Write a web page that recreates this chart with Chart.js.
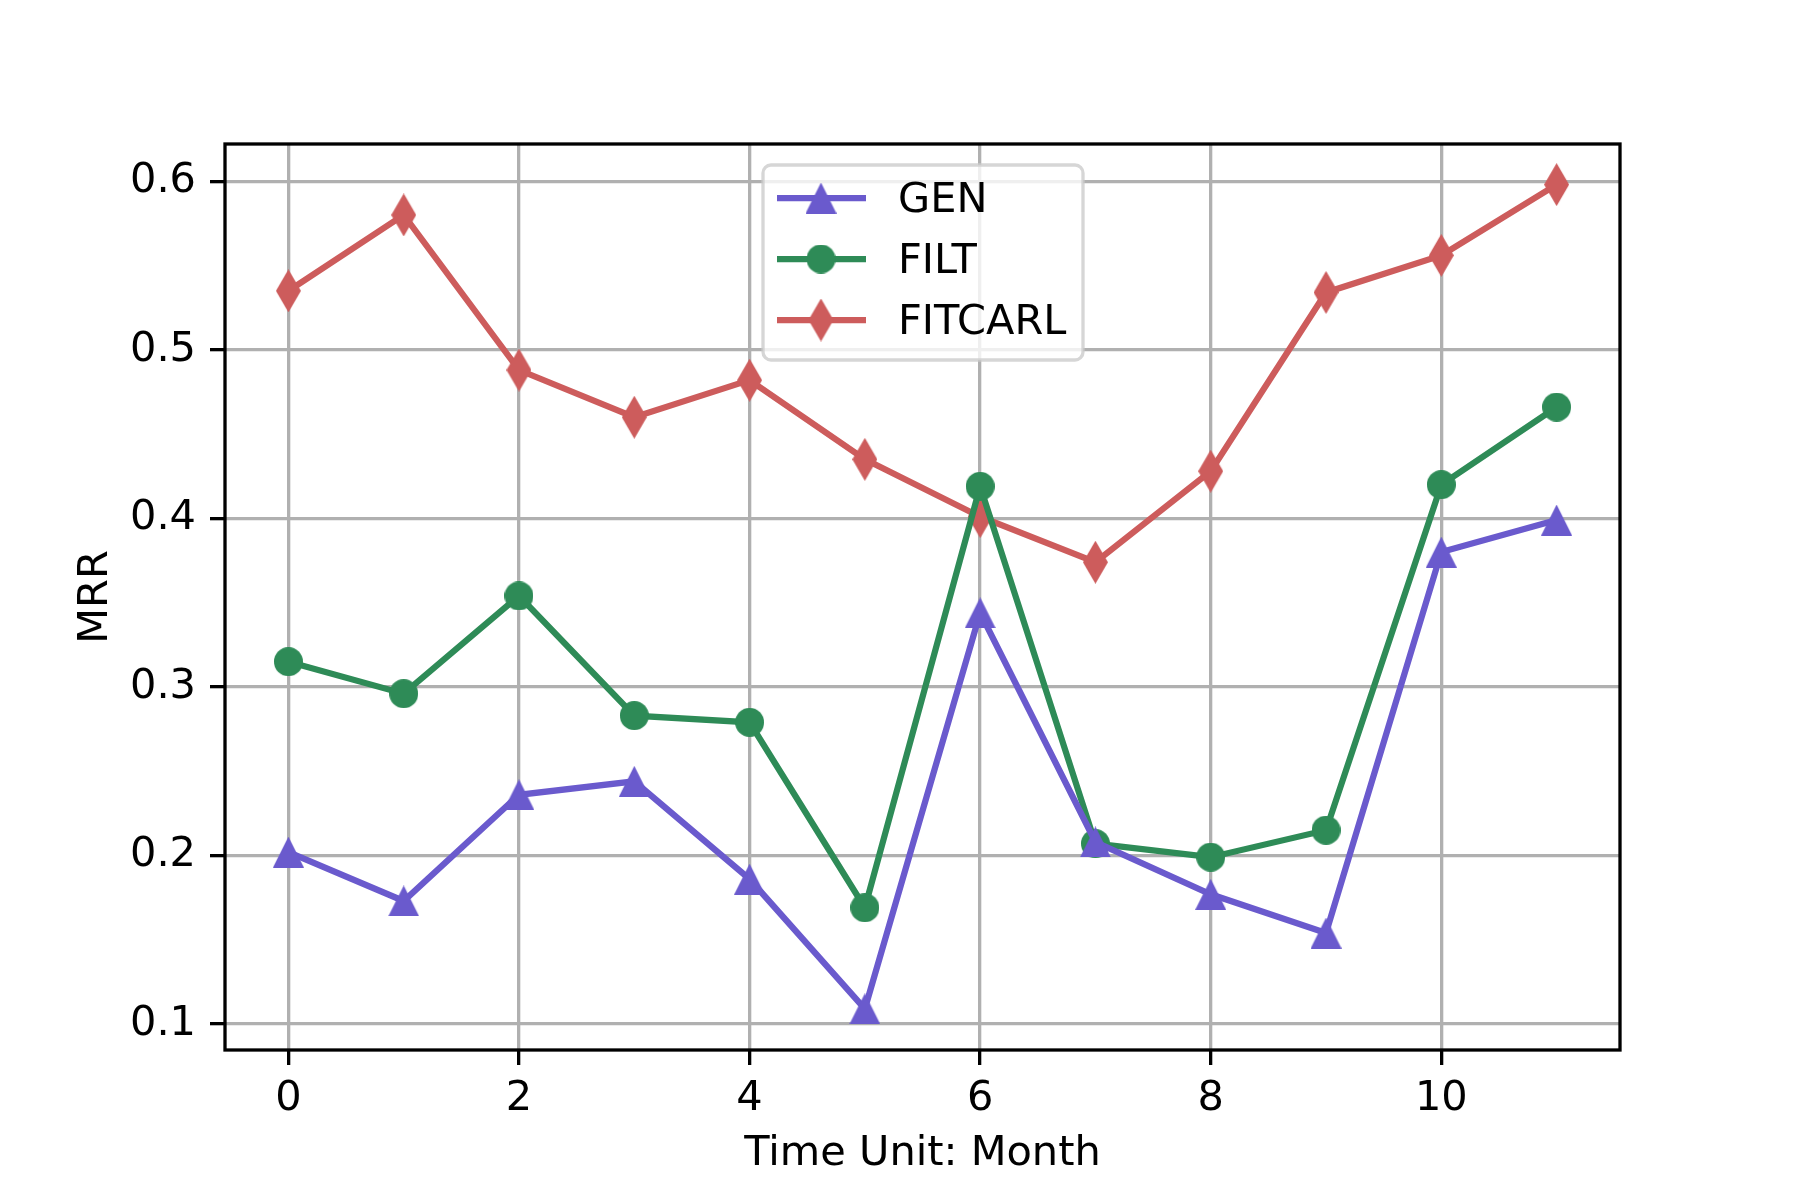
<!DOCTYPE html>
<html>
<head>
<meta charset="utf-8">
<script src="https://cdn.jsdelivr.net/npm/chart.js@4.4.0/dist/chart.umd.min.js"></script>
<style>
  html, body { margin: 0; padding: 0; background: #fff; }
  #wrap { width: 1800px; height: 1200px; }
</style>
</head>
<body>
<div id="wrap"><canvas id="mrrChart" width="1800" height="1200"></canvas></div>
<script>
// Data
const months = [0, 1, 2, 3, 4, 5, 6, 7, 8, 9, 10, 11];
const genValues = [0.202, 0.173, 0.236, 0.244, 0.186, 0.109, 0.344, 0.208, 0.177, 0.154, 0.380, 0.399];
const filtValues = [0.315, 0.296, 0.354, 0.283, 0.279, 0.169, 0.419, 0.207, 0.199, 0.215, 0.420, 0.466];
const fitcarlValues = [0.535, 0.580, 0.488, 0.460, 0.482, 0.435, 0.401, 0.374, 0.428, 0.534, 0.556, 0.598];
const xTickValues = [0, 2, 4, 6, 8, 10];
const yTickValues = [0.1, 0.2, 0.3, 0.4, 0.5, 0.6];

const FONT = 'DejaVu Sans';
const FONT_SIZE = 41.5;

// matplotlib-like marker sprites
function makeMarker(shape, w, h, color) {
  const c = document.createElement('canvas');
  c.width = w;
  c.height = h;
  const g = c.getContext('2d');
  g.fillStyle = color;
  g.beginPath();
  if (shape === 'triangle') {
    g.moveTo(w / 2, 0);
    g.lineTo(w, h);
    g.lineTo(0, h);
  } else if (shape === 'circle') {
    g.arc(w / 2, h / 2, w / 2, 0, Math.PI * 2);
  } else {
    g.moveTo(w / 2, 0);
    g.lineTo(w, h / 2);
    g.lineTo(w / 2, h);
    g.lineTo(0, h / 2);
  }
  g.closePath();
  g.fill();
  return c;
}

const series = [
  { label: 'GEN', values: genValues, color: '#6a5acd', marker: makeMarker('triangle', 31, 31, '#6a5acd') },
  { label: 'FILT', values: filtValues, color: '#2e8b57', marker: makeMarker('circle', 29, 29, '#2e8b57') },
  { label: 'FITCARL', values: fitcarlValues, color: '#cd5c5c', marker: makeMarker('diamond', 25, 43, '#cd5c5c') },
];

// axes frame + legend inside the plot
const frameAndLegend = {
  id: 'frameAndLegend',
  afterDatasetsDraw(chart) {
    const ctx = chart.ctx;
    const a = chart.chartArea;
    ctx.save();
    ctx.strokeStyle = '#000';
    ctx.lineWidth = 3.3;
    ctx.strokeRect(a.left, a.top, a.right - a.left, a.bottom - a.top);

    // legend box
    const bx = 763, by = 165, bw = 320, bh = 195, r = 8;
    ctx.beginPath();
    ctx.roundRect(bx, by, bw, bh, r);
    ctx.fillStyle = 'rgba(255,255,255,0.8)';
    ctx.fill();
    ctx.strokeStyle = 'rgba(204,204,204,0.8)';
    ctx.lineWidth = 3.3;
    ctx.stroke();

    ctx.font = FONT_SIZE + 'px "' + FONT + '"';
    ctx.textBaseline = 'alphabetic';
    ctx.textAlign = 'left';
    series.forEach((s, i) => {
      const y = 198 + i * 61;
      ctx.strokeStyle = s.color;
      ctx.lineWidth = 6.25;
      ctx.beginPath();
      ctx.moveTo(777, y);
      ctx.lineTo(866, y);
      ctx.stroke();
      const m = s.marker;
      ctx.drawImage(m, 821 - m.width / 2, y - m.height / 2);
      ctx.fillStyle = '#000';
      ctx.fillText(s.label, 898, y + 14);
    });
    ctx.restore();
  }
};

const ctx = document.getElementById('mrrChart').getContext('2d');
new Chart(ctx, {
  type: 'line',
  data: {
    datasets: series.map(s => ({
      label: s.label,
      data: months.map((m, i) => ({ x: m, y: s.values[i] })),
      borderColor: s.color,
      backgroundColor: s.color,
      borderWidth: 6.25,
      tension: 0,
      fill: false,
      pointStyle: s.marker,
      pointRadius: 15,
      pointHoverRadius: 15,
    })),
  },
  options: {
    responsive: false,
    animation: false,
    devicePixelRatio: 1,
    layout: {
      padding: { left: 60, right: 180, top: 144, bottom: 0 },
    },
    plugins: {
      legend: { display: false },
      tooltip: { enabled: false },
    },
    scales: {
      x: {
        type: 'linear',
        min: -0.55,
        max: 11.55,
        afterBuildTicks: scale => { scale.ticks = xTickValues.map(v => ({ value: v })); },
        afterFit: scale => { scale.height = 150; },
        border: { display: false },
        grid: {
          color: '#b0b0b0',
          lineWidth: 3.3,
          tickColor: '#000',
          tickWidth: 3.3,
          tickLength: 15,
        },
        ticks: {
          color: '#000',
          font: { family: FONT, size: FONT_SIZE },
          padding: 9,
          maxRotation: 0,
          callback: v => String(v),
        },
        title: {
          display: true,
          text: 'Time Unit: Month',
          color: '#000',
          font: { family: FONT, size: FONT_SIZE },
          padding: { top: 0, bottom: 21 },
        },
      },
      y: {
        type: 'linear',
        min: 0.0846,
        max: 0.6221,
        afterBuildTicks: scale => { scale.ticks = yTickValues.map(v => ({ value: v })); },
        afterFit: scale => { scale.width = 165; },
        border: { display: false },
        grid: {
          color: '#b0b0b0',
          lineWidth: 3.3,
          tickColor: '#000',
          tickWidth: 3.3,
          tickLength: 15,
        },
        ticks: {
          color: '#000',
          font: { family: FONT, size: FONT_SIZE },
          padding: 14,
          callback: v => v.toFixed(1),
        },
        title: {
          display: true,
          text: 'MRR',
          color: '#000',
          font: { family: FONT, size: FONT_SIZE },
          padding: { top: 11, bottom: 0 },
        },
      },
    },
  },
  plugins: [frameAndLegend],
});
</script>
</body>
</html>
